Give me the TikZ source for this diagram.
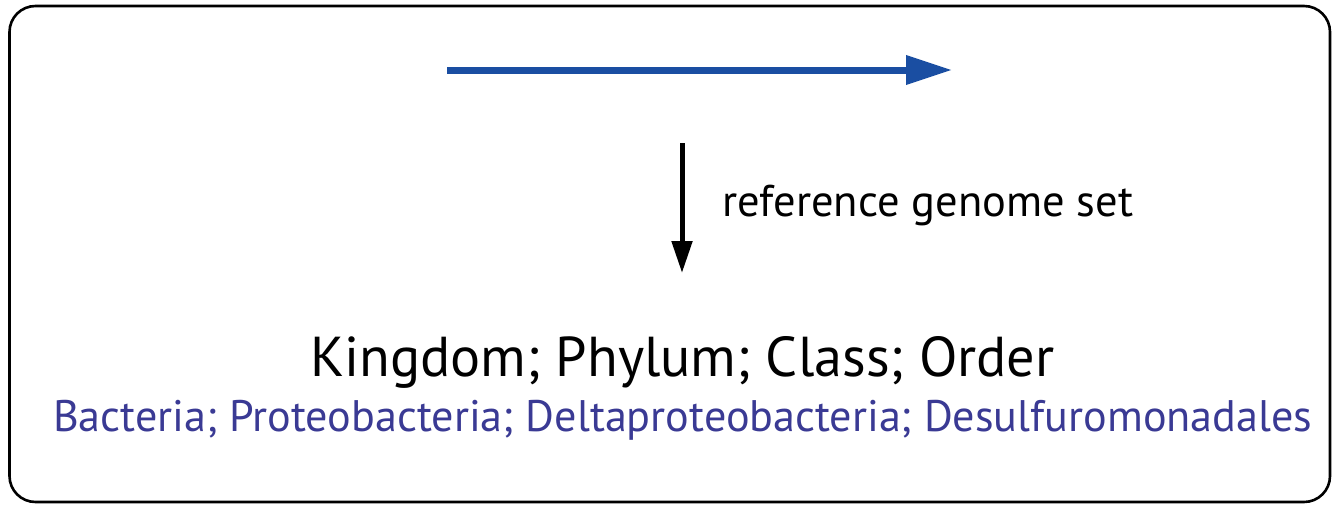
\documentclass[tikz,border=0pt]{standalone}
\usepackage{fontspec}
\setmainfont{PT Sans}
\usetikzlibrary{arrows.meta}
\definecolor{arrowblue}{RGB}{26,78,162}
\definecolor{taxblue}{RGB}{58,58,148}
\tikzset{
  frame/.style={draw=black, line width=2.6pt, rounded corners=26pt},
  flowarrow/.style={draw=arrowblue, line width=7pt, -{Triangle[length=46pt,width=28pt]}},
  downarrow/.style={draw=black, line width=5pt, -{Triangle[length=32pt,width=20pt]}},
  label/.style={inner sep=0pt, anchor=base west},
}
\begin{document}
\begin{tikzpicture}[x=1pt,y=-1pt]
  \useasboundingbox (0,0) rectangle (1335,506);
  \fill[white] (0,0) rectangle (1335,506);
  % outer rounded frame
  \draw[frame] (9.5,6) rectangle (1330,502);
  % horizontal flow arrow
  \coordinate (flowstart) at (447,70);
  \coordinate (flowend) at (952,70);
  \draw[flowarrow] (flowstart) -- (flowend);
  % downward arrow with its label
  \coordinate (downstart) at (682,143);
  \coordinate (downend) at (682,273);
  \draw[downarrow] (downstart) -- (downend);
  \node[label] (refset) at (722,216) {\resizebox{411pt}{!}{reference genome set}};
  % rank names and the example lineage
  \node[label] (ranks) at (310,376) {\resizebox{744pt}{!}{Kingdom; Phylum; Class; Order}};
  \node[label, text=taxblue] (lineage) at (53,431) {\resizebox{1259pt}{!}{Bacteria; Proteobacteria; Deltaproteobacteria; Desulfuromonadales}};
\end{tikzpicture}
\end{document}
